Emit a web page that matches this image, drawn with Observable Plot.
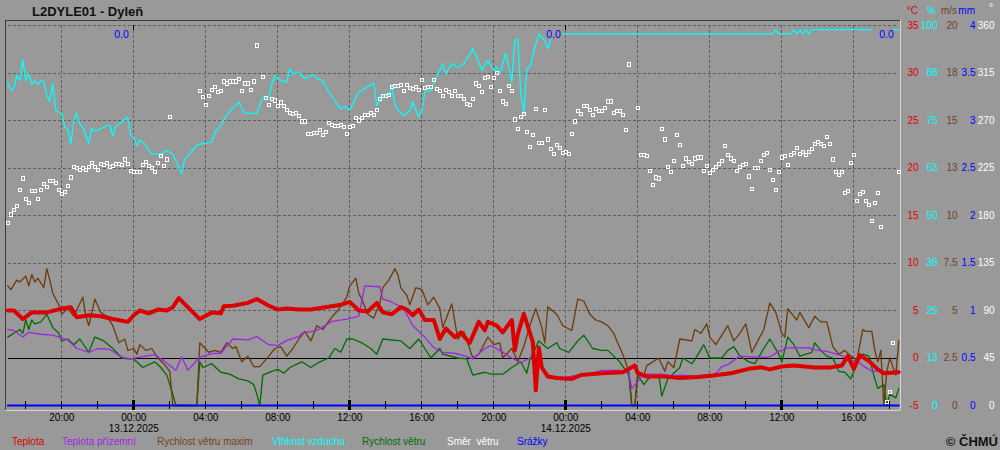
<!DOCTYPE html>
<html><head><meta charset="utf-8">
<script src="https://cdn.jsdelivr.net/npm/d3@7"></script>
<script src="https://cdn.jsdelivr.net/npm/@observablehq/plot@0.6"></script>
<style>
html,body{margin:0;padding:0;background:#999999;}
#wrap{position:relative;width:1000px;height:450px;overflow:hidden;font-family:"Liberation Sans",Arial,sans-serif;background:#999999;}
#head{position:relative;height:20px;}
#chart{height:412px;}
#chart svg{display:block;}
#legend{position:relative;height:18px;}
.abs{position:absolute;white-space:pre;font-size:10px;line-height:10px;}
</style></head>
<body>
<div id="wrap">
  <div id="head"></div>
  <div id="chart"></div>
  <div id="legend"></div>
</div>
<script>
// ---------- data ----------
const nazevStanice = "L2DYLE01 - Dyleň";
const copyright = "© ČHMÚ";
// k = index of 10-minute interval counted from 12.12.2025 17:00
const zacatek = "2025-12-12T17:00:00Z";
const casOd = "2025-12-12T16:52:20Z";
const casDo = "2025-12-14T18:35:40Z";

// Teplota [k, °C]
const teplota = [[0,5.0],[2,5.0],[5,4.1],[8,4.8],[13,4.8],[18,5.2],[21,5.35],[23,4.3],[27,4.5],[31,4.4],[35,4.1],[40,3.8],[42,4.5],[44,5.0],[47,4.7],[50,5.1],[53,5.0],[55,5.35],[57,6.3],[60,5.35],[64,4.1],[68,4.8],[71,4.7],[72,5.45],[75,5.5],[80,5.8],[83,6.2],[87,5.5],[90,5.1],[93,5.2],[97,5.1],[101,5.1],[108,5.45],[111,5.6],[114,5.9],[117,5.0],[120,4.9],[123,5.8],[125,4.8],[128,4.6],[131,5.35],[133,5.1],[135,4.5],[137,5.1],[139,4.0],[142,4.0],[144,2.0],[146,3.1],[149,2.2],[151,2.7],[152,2.3],[154,1.6],[157,3.8],[159,2.9],[160,3.8],[163,3.4],[165,2.7],[168,4.0],[169,0.8],[170,2.5],[172,4.65],[175,1.7],[176,-3.4],[177,1.1],[178,-1.0],[180,-1.95],[183,-2.1],[188,-2.2],[191,-1.8],[198,-1.6],[205,-1.5],[209,-0.8],[210,-1.6],[213,-1.95],[219,-1.95],[224,-2.1],[230,-2.0],[235,-1.84],[241,-1.6],[247,-1.14],[251,-0.97],[254,-1.2],[258,-0.9],[262,-0.8],[269,-1.0],[274,-1.0],[278,-0.8],[280,0.2],[282,-1.14],[284,0.3],[287,-0.3],[290,-1.2],[292,-1.6],[297,-1.5]];

// Teplota přízemní [k, °C]
const teplotaPrizemni = [[0,3.0],[2,2.9],[5,2.2],[7,2.7],[11,2.5],[15,2.4],[20,1.9],[23,1.0],[27,0.6],[30,1.0],[34,0.9],[38,0.1],[41,-0.1],[44,0.1],[49,0.35],[52,-0.3],[56,-1.3],[58,0.1],[60,-1.3],[64,0.1],[68,0.45],[71,0.5],[75,2.0],[80,1.9],[83,2.25],[87,1.4],[90,1.3],[93,1.85],[97,2.25],[98,2.6],[103,2.9],[108,3.85],[113,4.1],[117,4.4],[118,6.0],[119,7.6],[124,7.5],[125,6.2],[128,5.9],[132,5.2],[135,3.4],[139,2.2],[142,1.1],[145,0.6],[149,0.5],[152,0.25],[155,-0.1],[159,1.0],[161,1.3],[164,0.8],[168,0.0],[171,-0.5],[174,0.0],[178,-0.8],[180,-2.0],[183,-2.2],[189,-1.85],[194,-1.7],[198,-1.3],[204,-1.3],[207,-1.6],[208,-3.2],[210,-2.5],[212,-1.7],[218,-1.7],[222,-1.9],[224,-1.8],[229,-1.9],[233,-1.8],[235,-2.0],[238,-0.9],[240,-0.7],[244,0.2],[249,0.1],[254,0.1],[257,0.7],[260,1.07],[267,1.1],[269,0.85],[273,0.7],[278,0.26],[280,-0.3],[283,-0.3],[285,-0.8],[288,-1.4],[291,-1.4],[297,-1.5]];

// Rychlost větru maxim [k, m/s]
const vitrMax = [[0,6.3],[1,6.1],[3,6.6],[4,6.5],[6,6.8],[7,6.3],[8,6.9],[9,6.5],[10,6.7],[12,6.2],[13,7.2],[14,6.6],[15,5.9],[17,5.3],[18,4.8],[20,5.1],[22,4.7],[25,5.7],[26,4.7],[27,4.2],[29,5.6],[31,4.9],[33,4.7],[35,4.2],[37,3.3],[39,3.5],[40,2.9],[42,3.0],[43,2.7],[44,3.2],[46,2.9],[48,3.0],[50,2.5],[52,2.2],[54,1.8],[55,0],[63,0],[64,3.3],[67,2.8],[69,2.9],[71,2.8],[73,3.3],[75,3.0],[76,3.1],[78,2.3],[80,2.6],[82,2.05],[84,2.05],[87,2.6],[89,3.0],[91,3.1],[93,2.6],[95,3.0],[97,3.5],[99,3.9],[101,3.4],[103,4.2],[105,4.0],[108,4.65],[110,5.0],[113,5.7],[114,6.3],[116,6.7],[117,5.9],[118,5.6],[120,4.8],[122,4.6],[124,5.4],[125,6.2],[127,6.6],[129,7.2],[130,6.9],[131,6.2],[133,5.8],[134,5.3],[136,6.2],[138,6.1],[140,5.3],[142,5.7],[144,5.1],[145,4.1],[148,5.35],[150,3.5],[152,3.9],[155,2.5],[157,2.7],[158,3.0],[160,3.6],[162,3.2],[164,3.3],[165,2.5],[168,3.0],[170,2.3],[172,3.1],[174,4.2],[176,5.1],[178,4.1],[179,3.3],[180,5.2],[183,4.8],[185,4.2],[188,3.95],[190,5.6],[192,5.5],[194,4.8],[196,4.5],[198,4.4],[200,4.2],[202,3.8],[203,3.4],[205,2.7],[207,1.8],[208,0],[209,0],[210,1.8],[212,1.6],[213,2.1],[217,2.5],[219,1.8],[220,2.3],[222,2.0],[224,3.5],[228,3.4],[229,4.0],[231,3.8],[233,4.3],[234,3.6],[236,3.2],[240,4.2],[242,3.4],[244,3.8],[246,4.3],[248,2.8],[250,3.4],[252,4.0],[254,5.4],[256,4.9],[258,3.8],[259,3.6],[260,5.1],[263,4.5],[264,4.9],[267,4.1],[269,4.7],[271,4.4],[273,4.4],[275,3.1],[277,2.7],[279,2.9],[281,2.6],[283,2.4],[285,4.0],[286,3.9],[288,3.9],[289,2.9],[290,2.3],[291,2.9],[292,0],[293,1.8],[294,2.5],[296,1.6],[297,3.4]];

// Vlhkost vzduchu [k, %]
const vlhkost = [[0,85.1],[1,82.9],[2,83.5],[3,86.8],[4,85.5],[5,91],[6,85.5],[7,87.3],[8,84.5],[9,85.5],[10,84.5],[11,85.5],[12,85.3],[13,81.6],[14,80.2],[15,84.7],[16,77.6],[18,76.9],[19,73.2],[20,72.8],[21,68.9],[22,75],[23,76.9],[24,74.1],[25,73.2],[27,69],[28,73],[29,72.2],[31,72.8],[33,73.7],[34,73.7],[35,71],[36,73.5],[38,74.6],[40,75.9],[41,71],[42,70.6],[43,68.4],[44,69.7],[45,69.3],[48,66.2],[51,66.2],[53,67.1],[55,66.2],[56,64.5],[58,61],[59,64.9],[62,67.5],[63,68.6],[68,69.3],[69,71.9],[71,73.7],[73,76.6],[77,79.8],[79,76.9],[83,76.9],[85,81],[87,81.1],[88,84.6],[89,86.8],[91,85.5],[93,85.1],[94,88.6],[95,87.3],[97,87.7],[99,86],[102,87.1],[103,86],[105,85.5],[107,82.5],[111,78],[112,78.7],[114,77.8],[117,82.5],[120,83.9],[122,84.8],[123,79],[125,81.6],[127,81.6],[128,84.2],[129,79.4],[130,77.6],[132,76.3],[134,77.6],[135,79.8],[137,75.9],[138,77.6],[139,82.5],[141,82.9],[144,88.2],[145,89.9],[146,87.3],[148,89.9],[150,89],[152,89.9],[154,92.5],[155,93.9],[157,90.4],[158,88.2],[160,90.8],[162,88.2],[163,89],[164,87.3],[166,92.7],[168,85.1],[169,96],[170,96.5],[171,82],[172,76.8],[173,88.6],[174,89],[176,95.2],[177,97.8],[179,96],[180,93.9],[181,96.5],[183,97.8],[255,97.8],[256,98.9],[257,97.8],[261,97.8],[262,98.9],[263,97.8],[264,98.9],[265,97.8],[266,98.9],[267,97.8],[268,98.9],[288,98.9],[290,null],[295,98.9],[297,98.9]];

// Rychlost větru [k, m/s]
const vitr = [[0,3.6],[2,3.8],[4,4.0],[5,3.8],[6,4.5],[7,4.0],[8,4.5],[9,4.3],[11,4.4],[13,4.8],[15,4.1],[17,3.8],[18,3.4],[20,3.5],[22,3.2],[24,3.5],[27,2.8],[29,3.6],[32,3.4],[35,3.0],[38,2.5],[40,2.45],[42,2.45],[45,2.0],[49,2.3],[51,2.0],[53,1.6],[55,0.6],[56,0],[63,0],[64,2.3],[65,2.0],[68,2.2],[71,1.75],[74,1.65],[77,1.4],[80,1.3],[82,1.1],[83,0.6],[84,0],[85,1.6],[88,1.8],[90,1.9],[92,1.7],[94,2.0],[98,2.3],[101,2.0],[104,2.3],[107,2.5],[109,3.0],[111,2.8],[113,3.5],[115,3.5],[118,3.3],[121,3.0],[123,2.7],[125,3.5],[131,3.4],[134,3.0],[137,3.5],[139,3.0],[141,2.5],[144,3.0],[145,2.7],[150,2.5],[153,2.45],[155,1.6],[159,1.75],[161,1.65],[165,1.65],[168,2.0],[171,2.3],[173,1.7],[174,2.4],[177,3.4],[180,3.0],[183,3.3],[184,3.0],[187,2.8],[190,3.4],[192,3.7],[195,3.0],[198,2.9],[200,2.9],[202,2.6],[204,2.3],[207,1.6],[208,0],[209,0],[210,1.6],[212,1.1],[214,1.5],[217,1.6],[218,0.5],[220,1.4],[222,1.7],[224,2.0],[225,2.5],[228,2.2],[229,2.4],[232,3.2],[234,2.5],[238,2.5],[240,2.9],[242,3.1],[244,2.6],[247,2.3],[249,2.2],[252,3.0],[254,3.5],[257,2.7],[258,2.3],[260,3.6],[262,3.2],[264,2.6],[268,2.8],[269,3.3],[271,2.9],[273,2.6],[275,2.5],[277,1.8],[279,1.75],[281,1.4],[283,2.2],[285,2.7],[287,2.6],[289,1.4],[290,0.9],[292,1.1],[293,0],[294,0.6],[296,0.4],[297,0.9]];

// Směr větru, one value per 10 minutes from k = 0 (null = calm)
const smerVetru = [
173,181,185,189,204,215,196,192,203,203, 196,204,210,207,213,213,211,204,200,202,
208,216,226,225,223,225,223,226,230,226, 223,229,228,230,226,227,229,229,228,233,
229,222,221,221,221,228,231,227,225,221, 230,236,227,233,273,null,null,null,null,null,
null,null,null,null,298,292,285,293,299,302, 297,298,307,305,307,307,307,309,298,305,
305,299,307,341,null,311,291,285,290,289, 284,287,284,280,277,276,277,274,269,269,
257,257,258,258,261,256,259,268,266,265, 265,266,264,257,264,265,272,270,272,275,
275,277,275,280,290,293,293,294,302,303, 303,304,298,304,301,300,302,299,308,301,
302,302,308,300,298,293,299,297,293,298, 293,293,290,286,285,290,305,303,297,310,
311,302,310,315,298,288,286,303,298,271, 262,273,276,259,245,256,281,249,249,280,
252,243,238,247,244,239,240,238,257,269, 279,276,284,284,280,275,281,279,279,282,
288,288,277,279,279,275,261,323,null,null, 282,237,237,236,222,209,216,215,262,252,
226,221,232,256,247,227,234,231,229,234, 235,235,222,227,220,223,226,229,232,246,
237,234,232,222,226,228,229,217,205,225, 225,232,237,239,223,214,204,221,235,236,
228,237,239,244,238,240,237,240,243,248, 250,248,246,254,248,233,221,218,221,201,
203,230,237,194,200,202,194,190,175,192, 201,169,null,3,13,59,null,221];

// Srážky [k, mm]
const srazky = [[0,0],[297,0]];
// daily precipitation totals
const uhrnCasy = ["2025-12-13T00:00:00Z","2025-12-14T00:00:00Z","2025-12-14T18:30:00Z"];
const uhrnHodnoty = [0.0, 0.0, 0.0];

// right-hand axes (rows from top)
const osaTeplota = [35,30,25,20,15,10,5,0,-5];
const osaVlhkost = ["100","88","75","63","50","38","25","13","0"];
const osaVitr = ["20","18","15","13","10","7.5","5","2.5","0"];
const osaSrazky = ["4","3.5","3","2.5","2","1.5","1","0.5","0"];
const osaSmer = ["360","315","270","225","180","135","90","45","0"];

// time axis
const gridCasy = ["2025-12-12T20:00:00Z","2025-12-13T00:00:00Z","2025-12-13T04:00:00Z","2025-12-13T08:00:00Z","2025-12-13T12:00:00Z","2025-12-13T16:00:00Z","2025-12-13T20:00:00Z","2025-12-14T00:00:00Z","2025-12-14T04:00:00Z","2025-12-14T08:00:00Z","2025-12-14T12:00:00Z","2025-12-14T16:00:00Z"];
const popiskyCasu = ["20:00","00:00","04:00","08:00","12:00","16:00","20:00","00:00","04:00","08:00","12:00","16:00"];
const tickCasy = ["2025-12-12T18:00:00Z","2025-12-12T20:00:00Z","2025-12-12T22:00:00Z","2025-12-13T02:00:00Z","2025-12-13T04:00:00Z","2025-12-13T06:00:00Z","2025-12-13T08:00:00Z","2025-12-13T10:00:00Z","2025-12-13T14:00:00Z","2025-12-13T16:00:00Z","2025-12-13T18:00:00Z","2025-12-13T20:00:00Z","2025-12-13T22:00:00Z","2025-12-14T02:00:00Z","2025-12-14T04:00:00Z","2025-12-14T06:00:00Z","2025-12-14T08:00:00Z","2025-12-14T10:00:00Z","2025-12-14T14:00:00Z","2025-12-14T16:00:00Z","2025-12-14T18:00:00Z"];
const silneTicky = ["2025-12-13T00:00:00Z","2025-12-13T12:00:00Z","2025-12-14T00:00:00Z","2025-12-14T12:00:00Z"];
const pulnoci = ["2025-12-13T00:00:00Z","2025-12-14T00:00:00Z"];
const datumy = ["13.12.2025","14.12.2025"];

const legenda = ["Teplota","Teplota přízemní","Rychlost větru maxim","Vlhkost vzduchu","Rychlost větru","Směr  větru","Srážky"];

// ---------- drawing ----------
const C = {teplota:"#dd0000", prizemni:"#a224e6", vitrMax:"#6e3a08", vlhkost:"#00ffff", vitr:"#006c00", smer:"#ffffff", srazky:"#0000ff"};
const legendBarvy = [C.teplota, C.prizemni, "#74421a", C.vlhkost, C.vitr, C.smer, C.srazky];
const legendX = [12, 62, 157, 272, 362, 447, 517];

const t0 = new Date(zacatek).getTime();
const X = k => new Date(t0 + k * 600000);
const D = s => new Date(s);
// all series share the temperature scale (-5 … 35)
const zVlhkosti = h => h == null ? null : h * 0.4 - 5;
const zVetru = w => w == null ? null : w * 2 - 5;
const zSmeru = d => d / 9 - 5;
const zSrazek = p => p * 10 - 5;
const zTeploty = t => t;

const smerData = smerVetru.map((v, k) => ({k, v})).filter(d => d.v != null);
const grid = "#5f5f5f", dark = "#3a3a3a", light = "#d6d6d6";

const chart = Plot.plot({
  width: 1000, height: 412,
  marginLeft: 5, marginRight: 100, marginTop: 5, marginBottom: 27,
  x: {type: "utc", domain: [D(casOd), D(casDo)], axis: null},
  y: {domain: [-5, 35], axis: null},
  style: {background: "#999999", fontFamily: "'Liberation Sans', Arial, sans-serif", fontSize: "10px", color: "#000", overflow: "visible"},
  marks: [
    Plot.ruleY(osaTeplota.slice(0, -1), {stroke: grid, strokeDasharray: "3,2", insetLeft: 3, insetRight: 3, shapeRendering: "crispEdges"}),
    Plot.ruleX(gridCasy, {x: D, stroke: grid, strokeDasharray: "3,2", insetBottom: 5, shapeRendering: "crispEdges"}),
    Plot.ruleY([0], {stroke: "#000", insetLeft: 3, insetRight: 3, shapeRendering: "crispEdges"}),
    // frame (sunken look)
    Plot.ruleX([casDo], {x: D, stroke: light, insetTop: -5, insetBottom: -5, shapeRendering: "crispEdges"}),
    Plot.ruleY([-5], {dy: 5, stroke: light, shapeRendering: "crispEdges"}),
    Plot.ruleX([casOd], {x: D, stroke: dark, insetTop: -5, insetBottom: -5, shapeRendering: "crispEdges"}),
    Plot.ruleY([35], {dy: -5, stroke: dark, shapeRendering: "crispEdges"}),
    // series
    Plot.line(vlhkost, {x: d => X(d[0]), y: d => zVlhkosti(d[1]), stroke: C.vlhkost, strokeWidth: 1.3}),
    Plot.line(vitr, {x: d => X(d[0]), y: d => zVetru(d[1]), stroke: C.vitr, strokeWidth: 1.3}),
    Plot.line(vitrMax, {x: d => X(d[0]), y: d => zVetru(d[1]), stroke: C.vitrMax, strokeWidth: 1.3}),
    Plot.line(teplotaPrizemni, {x: d => X(d[0]), y: d => zTeploty(d[1]), stroke: C.prizemni, strokeWidth: 1.3}),
    Plot.line(teplota, {x: d => X(d[0]), y: d => zTeploty(d[1]), stroke: C.teplota, strokeWidth: 4, strokeLinejoin: "round"}),
    Plot.dot(smerData, {x: d => X(d.k), y: d => zSmeru(d.v), symbol: "square", r: 1.8, stroke: C.smer, fill: "none", strokeWidth: 1, shapeRendering: "crispEdges"}),
    Plot.line(srazky, {x: d => X(d[0]), y: d => zSrazek(d[1]), stroke: C.srazky, strokeWidth: 2}),
    // time ticks
    Plot.ruleX(tickCasy, {x: D, y1: () => -5, y2: () => -5, insetTop: -4, insetBottom: -4, stroke: "#000", shapeRendering: "crispEdges"}),
    Plot.ruleX(silneTicky, {x: D, y1: () => -5, y2: () => -5, insetTop: -5, insetBottom: -5, stroke: "#000", strokeWidth: 3, shapeRendering: "crispEdges"}),
    Plot.ruleX(pulnoci, {x: D, y1: () => 35, y2: () => 35, insetTop: 0, insetBottom: -5, stroke: "#000", shapeRendering: "crispEdges"}),
    Plot.text(gridCasy, {x: D, text: (d, i) => popiskyCasu[i], frameAnchor: "bottom", lineAnchor: "top", dy: 8, fill: "#000", fontSize: 10}),
    Plot.text(pulnoci, {x: D, text: (d, i) => datumy[i], frameAnchor: "bottom", lineAnchor: "top", dy: 19, fill: "#000", fontSize: 10}),
    // daily precipitation totals
    Plot.text(uhrnCasy, {x: D, y: () => 35, dy: 9, dx: -5, textAnchor: "end", text: (d, i) => uhrnHodnoty[i].toFixed(1), fill: C.srazky, stroke: "#999999", strokeWidth: 3, fontSize: 10.5}),
    // right-hand axes
    Plot.text(osaTeplota, {y: d => d, text: d => String(d), frameAnchor: "right", dx: 18, textAnchor: "end", fill: C.teplota, fontSize: 10}),
    Plot.text(osaTeplota, {y: d => d, text: (d, i) => osaVlhkost[i], frameAnchor: "right", dx: 37, textAnchor: "end", fill: C.vlhkost, fontSize: 10}),
    Plot.text(osaTeplota, {y: d => d, text: (d, i) => osaVitr[i], frameAnchor: "right", dx: 57, textAnchor: "end", fill: "#74421a", fontSize: 10}),
    Plot.text(osaTeplota, {y: d => d, text: (d, i) => osaSrazky[i], frameAnchor: "right", dx: 75, textAnchor: "end", fill: C.srazky, fontSize: 10}),
    Plot.text(osaTeplota, {y: d => d, text: (d, i) => osaSmer[i], frameAnchor: "right", dx: 94, textAnchor: "end", fill: C.smer, fontSize: 10})
  ]
});
document.getElementById("chart").appendChild(chart);

// header: title and units
const head = document.getElementById("head");
function span(parent, text, css) {
  const s = document.createElement("span");
  s.className = "abs"; s.textContent = text;
  Object.assign(s.style, css);
  parent.appendChild(s);
}
span(head, nazevStanice, {left: "32px", top: "5px", fontSize: "13px", lineHeight: "13px", fontWeight: "bold", color: "#111"});
const jednotky = [["°C", C.teplota, 82], ["%", C.vlhkost, 64], ["m/s", "#74421a", 43], ["mm", C.srazky, 25]];
jednotky.forEach(([t, c, r]) => span(head, t, {right: r + "px", top: "5.5px", color: c}));
span(head, "°", {right: "7px", top: "3px", color: C.smer});

// legend
const leg = document.getElementById("legend");
legenda.forEach((t, i) => span(leg, t, {left: legendX[i] + "px", top: "4.5px", color: legendBarvy[i]}));
span(leg, copyright, {right: "2px", top: "3px", fontSize: "13px", lineHeight: "13px", fontWeight: "bold", color: "#111"});
</script>
</body></html>
